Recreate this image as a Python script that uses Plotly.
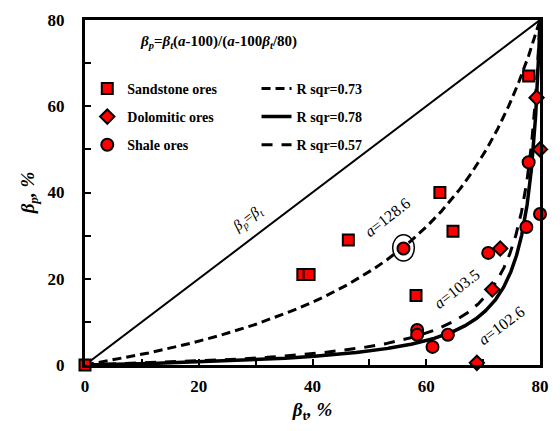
import numpy as np
import plotly.graph_objects as go

# ---- data ----
sand_x = [0, 38.3, 39.4, 46.3, 58.2, 62.4, 64.7, 78.0]
sand_y = [0, 21, 21, 29, 16.1, 40, 31, 67]
dolo_x = [68.9, 71.6, 73.0, 79.4, 80.0]
dolo_y = [0.5, 17.5, 27, 62, 50]
shale_x = [56.0, 58.4, 58.4, 61.1, 63.8, 70.9, 77.6, 78.0, 80.0]
shale_y = [27, 8.1, 7.0, 4.2, 7.0, 26, 32, 47, 35]

# fitted parameter a and R^2 of each ore type (model in the chart title)
fit_names = ["Sandstone", "Dolomitic", "Shale"]
fit_a = [128.6, 102.6, 103.5]
fit_r2 = [0.73, 0.78, 0.57]
beta_max = 80
axis_ticks = [0, 20, 40, 60, 80]

FONT = "Liberation Serif"


def model(bt, a):
    bt = np.asarray(bt, dtype=float)
    return bt * (a - 100) / (a - 100 * bt / beta_max)


bt_grid = np.linspace(0, beta_max, 1601)

fig = go.Figure()

# identity line
fig.add_trace(go.Scatter(x=[0, beta_max], y=[0, beta_max], mode="lines",
                         line=dict(color="black", width=2), showlegend=False,
                         hoverinfo="skip"))

line_styles = [dict(color="black", width=3, dash="9px,5px"),
               dict(color="black", width=3.5),
               dict(color="black", width=3, dash="11px,9px")]
for name, a, r2, ls in zip(fit_names, fit_a, fit_r2, line_styles):
    fig.add_trace(go.Scatter(x=bt_grid, y=model(bt_grid, a), mode="lines",
                             line=ls, name=f"R sqr={r2:.2f}",
                             legend="legend2", legendgroup="l" + name))

mk_line = dict(color="black", width=2)
fig.add_trace(go.Scatter(x=sand_x, y=sand_y, mode="markers", name="Sandstone ores",
                         marker=dict(symbol="square", size=11, color="#ff0000", line=mk_line),
                         cliponaxis=False, legendgroup="s"))
fig.add_trace(go.Scatter(x=dolo_x, y=dolo_y, mode="markers", name="Dolomitic ores",
                         marker=dict(symbol="diamond", size=11, color="#ff0000", line=mk_line),
                         cliponaxis=False, legendgroup="d"))
fig.add_trace(go.Scatter(x=shale_x, y=shale_y, mode="markers", name="Shale ores",
                         marker=dict(symbol="circle", size=12, color="#ff0000", line=mk_line),
                         cliponaxis=False, legendgroup="h"))

# circled point
fig.add_shape(type="circle", xref="x", yref="y", x0=54.1, x1=57.9, y0=24.1, y1=30.2,
              line=dict(color="black", width=1.5))

ann_font = dict(family=FONT, size=16, color="black")
fig.add_annotation(x=28.6, y=33.9, text="<i>β</i><sub><i>p</i></sub>=<i>β</i><sub><i>t</i></sub>",
                   showarrow=False, textangle=-37, font=dict(family=FONT, size=15, color="black"))
fig.add_annotation(x=53.1, y=34.2, text=f"<i>a</i>={fit_a[0]}", showarrow=False,
                   textangle=-38, font=ann_font)
fig.add_annotation(x=65.4, y=17.8, text=f"<i>a</i>={fit_a[2]}", showarrow=False,
                   textangle=-38, font=ann_font)
fig.add_annotation(x=73.2, y=9.1, text=f"<i>a</i>={fit_a[1]}", showarrow=False,
                   textangle=-37, font=ann_font)
fig.add_annotation(x=0.293, xref="paper", y=0.935, yref="paper",
                   text="<i>β</i><sub><i>p</i></sub>=<i>β</i><sub><i>t</i></sub>(<i>a</i>-100)/(<i>a</i>-100<i>β</i><sub><i>t</i></sub>/80)",
                   showarrow=False, xanchor="center", yanchor="middle",
                   font=dict(family=FONT, size=15, color="black", weight="bold"))

axis_common = dict(range=[0, beta_max], tickvals=axis_ticks, ticks="inside", ticklen=6,
                   tickwidth=2, tickcolor="black", showline=True, linewidth=3,
                   linecolor="black", mirror=True, showgrid=False, zeroline=False,
                   tickfont=dict(family=FONT, size=17, color="black", weight="bold"),
                   minor=dict(dtick=10, ticks="inside", ticklen=6, tickwidth=2,
                              tickcolor="black"))

fig.update_xaxes(**axis_common,
                 title=dict(text="<i>β</i><sub>t</sub><i>, %</i>",
                            font=dict(family=FONT, size=19, color="black", weight="bold"),
                            standoff=8),
                 ticklabelstandoff=4)
fig.update_yaxes(**axis_common,
                 title=dict(text="<i>β</i><sub><i>p</i></sub><i>, %</i>",
                            font=dict(family=FONT, size=19, color="black", weight="bold"),
                            standoff=8),
                 ticklabelstandoff=14)

leg_font = dict(family=FONT, size=14, color="black", weight="bold")
fig.update_layout(
    width=560, height=431,
    margin=dict(l=85, r=11, t=14, b=66),
    paper_bgcolor="white", plot_bgcolor="white",
    showlegend=True,
    legend=dict(x=0.005, y=0.847, xanchor="left", yanchor="top", font=leg_font,
                bgcolor="rgba(0,0,0,0)", tracegroupgap=7),
    legend2=dict(x=0.377, y=0.847, xanchor="left", yanchor="top", font=leg_font,
                 bgcolor="rgba(0,0,0,0)", tracegroupgap=7),
)

fig.write_html("out.html")
